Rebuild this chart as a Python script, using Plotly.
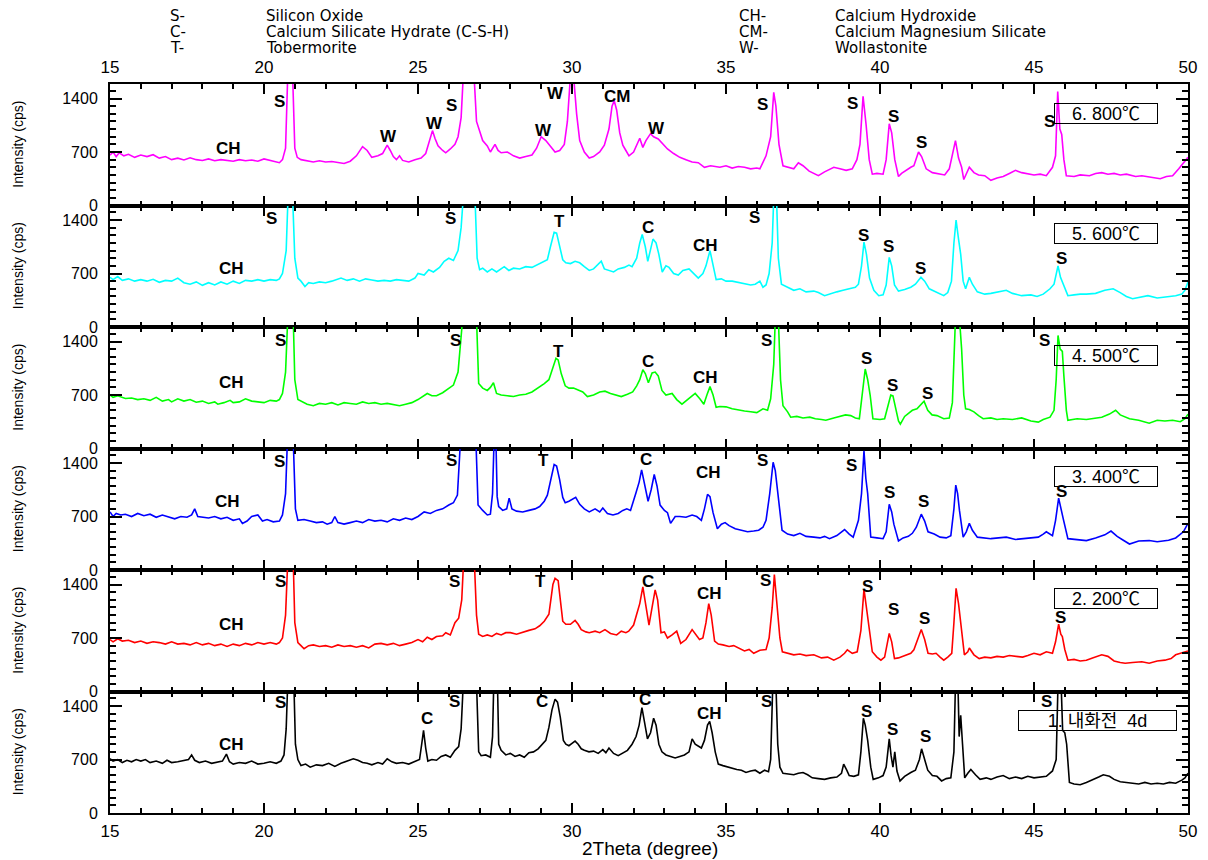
import plotly.graph_objects as go
from plotly.subplots import make_subplots

# ---------------- data (2theta, intensity) ----------------
p800 = [(15.0,660),(15.1,700),(15.2,640),(15.3,690),(15.45,650),(15.6,670),(15.8,630),(16.0,660),(16.2,640),(16.4,665),(16.6,620),(16.8,640),(17.0,600),(17.2,620),(17.4,595),(17.6,625),(17.8,600),(18.0,590),(18.2,610),(18.4,585),(18.6,600),(18.8,590),(19.0,580),(19.2,600),(19.4,585),(19.6,595),(19.8,580),(20.0,610),(20.2,590),(20.4,570),(20.5,560),(20.6,600),(20.7,750),(20.77,1700),(20.93,1700),(21.0,750),(21.08,630),(21.2,600),(21.4,580),(21.6,570),(21.8,585),(22.0,570),(22.2,575),(22.4,560),(22.6,550),(22.8,580),(23.0,650),(23.2,770),(23.35,720),(23.5,630),(23.7,650),(23.85,680),(24.0,790),(24.1,720),(24.2,640),(24.3,600),(24.4,650),(24.5,590),(24.7,570),(24.9,600),(25.1,620),(25.25,680),(25.4,900),(25.47,980),(25.55,880),(25.65,780),(25.8,720),(25.9,690),(26.05,740),(26.2,800),(26.3,900),(26.4,1150),(26.47,1700),(26.82,1700),(26.9,1100),(27.0,980),(27.1,850),(27.25,780),(27.35,700),(27.5,800),(27.6,720),(27.7,690),(27.9,700),(28.1,650),(28.3,620),(28.5,640),(28.7,660),(28.85,750),(29.0,900),(29.15,850),(29.3,780),(29.45,700),(29.6,720),(29.75,800),(29.85,1100),(29.95,1700),(30.05,1700),(30.15,1200),(30.25,850),(30.4,700),(30.56,620),(30.7,640),(30.9,700),(31.05,790),(31.2,1000),(31.3,1300),(31.37,1370),(31.45,1250),(31.55,950),(31.65,790),(31.75,720),(31.85,650),(32.0,700),(32.1,780),(32.2,880),(32.3,760),(32.4,850),(32.55,940),(32.65,900),(32.8,870),(32.95,800),(33.1,740),(33.3,680),(33.5,630),(33.7,600),(33.9,570),(34.1,560),(34.3,500),(34.5,520),(34.8,500),(35.0,520),(35.2,490),(35.4,510),(35.6,500),(35.8,480),(36.0,490),(36.1,480),(36.3,650),(36.45,900),(36.55,1480),(36.62,1300),(36.72,800),(36.85,520),(37.0,500),(37.2,480),(37.35,560),(37.5,520),(37.7,450),(37.9,410),(38.0,390),(38.2,440),(38.4,480),(38.5,500),(38.7,480),(38.9,460),(39.1,480),(39.25,600),(39.35,800),(39.45,1430),(39.55,1050),(39.65,600),(39.75,410),(39.9,420),(40.1,410),(40.2,600),(40.3,1070),(40.38,950),(40.48,600),(40.6,380),(40.7,420),(40.9,480),(41.0,500),(41.1,520),(41.25,700),(41.35,640),(41.5,480),(41.7,430),(41.9,410),(42.1,400),(42.25,480),(42.4,750),(42.45,850),(42.55,620),(42.65,500),(42.72,340),(42.8,420),(42.9,500),(43.05,430),(43.2,400),(43.4,390),(43.6,330),(43.8,360),(44.0,380),(44.2,420),(44.4,460),(44.6,430),(44.8,420),(45.0,400),(45.2,410),(45.4,390),(45.6,500),(45.7,650),(45.77,1490),(45.84,1000),(45.9,930),(45.97,600),(46.05,390),(46.3,380),(46.5,400),(46.8,390),(47.0,420),(47.2,430),(47.4,410),(47.6,420),(47.8,400),(48.0,410),(48.3,380),(48.5,390),(48.8,370),(49.1,350),(49.3,380),(49.5,390),(49.7,480),(49.85,560),(50.0,630)]

p600 = [(15.0,650),(15.1,620),(15.25,660),(15.4,610),(15.6,630),(15.8,600),(16.0,620),(16.2,600),(16.4,625),(16.6,585),(16.8,610),(17.0,600),(17.2,640),(17.4,580),(17.6,560),(17.8,590),(18.0,545),(18.2,580),(18.4,550),(18.6,590),(18.8,560),(19.0,600),(19.2,570),(19.4,610),(19.6,600),(19.8,620),(20.0,600),(20.2,620),(20.4,610),(20.5,630),(20.6,700),(20.72,1000),(20.78,1700),(20.93,1700),(21.0,900),(21.1,640),(21.2,600),(21.33,530),(21.45,580),(21.6,570),(21.8,590),(22.0,580),(22.2,600),(22.4,620),(22.5,640),(22.7,610),(22.9,630),(23.1,600),(23.3,630),(23.5,615),(23.7,600),(23.9,610),(24.1,600),(24.3,620),(24.5,610),(24.7,600),(24.9,640),(25.0,700),(25.2,680),(25.35,750),(25.5,720),(25.7,780),(25.85,860),(26.0,900),(26.15,870),(26.3,1000),(26.4,1300),(26.47,1700),(26.85,1700),(26.92,900),(27.0,750),(27.1,770),(27.25,720),(27.4,760),(27.55,720),(27.7,760),(27.8,790),(27.95,740),(28.1,770),(28.3,760),(28.5,790),(28.7,780),(28.9,820),(29.05,850),(29.2,880),(29.3,1050),(29.42,1240),(29.5,1230),(29.6,1050),(29.7,880),(29.8,840),(29.95,830),(30.1,860),(30.25,840),(30.4,790),(30.56,740),(30.7,760),(30.95,860),(31.05,760),(31.2,740),(31.35,720),(31.5,760),(31.7,780),(31.85,810),(31.95,790),(32.1,900),(32.2,1100),(32.28,1210),(32.38,1050),(32.46,860),(32.55,1000),(32.63,1150),(32.73,1100),(32.82,950),(32.93,720),(33.05,800),(33.15,780),(33.3,700),(33.45,680),(33.6,740),(33.8,760),(33.95,700),(34.1,640),(34.25,700),(34.35,800),(34.48,1000),(34.58,800),(34.68,620),(34.85,630),(35.0,600),(35.2,600),(35.4,580),(35.6,560),(35.8,550),(35.95,560),(36.1,600),(36.2,520),(36.3,550),(36.4,700),(36.5,1100),(36.55,1700),(36.64,1700),(36.7,900),(36.8,560),(37.0,520),(37.2,480),(37.4,500),(37.6,460),(37.85,470),(38.0,450),(38.2,410),(38.4,440),(38.6,460),(38.8,480),(39.0,500),(39.2,520),(39.3,560),(39.4,800),(39.48,1110),(39.56,950),(39.66,640),(39.8,480),(39.96,410),(40.1,420),(40.2,550),(40.3,910),(40.38,800),(40.47,550),(40.6,470),(40.8,490),(41.0,520),(41.15,560),(41.33,650),(41.45,600),(41.6,500),(41.75,470),(41.9,440),(42.07,410),(42.2,450),(42.32,600),(42.4,1100),(42.47,1400),(42.55,1150),(42.62,950),(42.7,600),(42.78,500),(42.9,650),(43.0,560),(43.16,460),(43.4,430),(43.6,440),(43.8,460),(44.1,480),(44.3,440),(44.6,410),(44.9,420),(45.1,400),(45.3,430),(45.52,500),(45.65,560),(45.78,800),(45.86,650),(45.95,560),(46.1,410),(46.3,420),(46.5,430),(46.7,430),(47.0,440),(47.3,480),(47.57,500),(47.8,450),(48.0,400),(48.2,370),(48.5,390),(48.7,410),(49.0,380),(49.23,390),(49.45,400),(49.6,410),(49.8,430),(49.9,480),(50.0,590)]

p500 = [(15.0,700),(15.1,670),(15.25,690),(15.5,655),(15.7,660),(15.9,640),(16.1,650),(16.3,630),(16.5,670),(16.7,620),(16.9,640),(17.0,610),(17.2,650),(17.4,620),(17.6,640),(17.8,605),(18.0,620),(18.2,590),(18.4,610),(18.5,580),(18.7,600),(18.9,630),(19.0,600),(19.2,610),(19.4,650),(19.6,620),(19.8,610),(20.0,600),(20.2,630),(20.4,620),(20.5,640),(20.6,720),(20.7,1000),(20.77,1700),(20.95,1700),(21.0,900),(21.1,640),(21.25,610),(21.4,580),(21.6,560),(21.8,590),(22.0,580),(22.2,600),(22.4,570),(22.6,600),(22.8,590),(23.0,580),(23.2,610),(23.4,590),(23.6,600),(23.8,580),(24.0,590),(24.2,570),(24.4,560),(24.6,580),(24.8,600),(25.0,640),(25.15,680),(25.3,720),(25.45,690),(25.6,690),(25.8,730),(26.0,790),(26.15,830),(26.3,1000),(26.45,1700),(26.9,1700),(26.97,850),(27.1,790),(27.25,760),(27.35,800),(27.45,860),(27.55,720),(27.7,700),(27.9,690),(28.1,680),(28.3,700),(28.5,710),(28.7,740),(28.9,790),(29.1,850),(29.25,900),(29.35,1030),(29.48,1180),(29.55,1160),(29.65,980),(29.78,820),(29.9,790),(30.05,790),(30.2,760),(30.35,740),(30.5,680),(30.7,700),(30.9,740),(31.07,750),(31.25,720),(31.4,700),(31.6,680),(31.8,710),(31.97,740),(32.1,820),(32.2,900),(32.3,1030),(32.38,980),(32.48,860),(32.6,990),(32.7,1000),(32.8,950),(32.92,760),(33.05,700),(33.25,720),(33.4,640),(33.57,580),(33.75,640),(33.9,690),(34.0,720),(34.15,650),(34.28,580),(34.38,700),(34.48,810),(34.58,700),(34.68,540),(34.8,550),(35.0,545),(35.2,520),(35.4,500),(35.6,490),(35.8,480),(36.0,470),(36.2,520),(36.35,500),(36.45,650),(36.55,1100),(36.6,1700),(36.7,1700),(36.77,900),(36.85,560),(37.0,480),(37.1,410),(37.3,420),(37.5,400),(37.72,410),(37.9,390),(38.1,380),(38.24,370),(38.5,400),(38.7,420),(38.88,440),(39.05,430),(39.2,400),(39.33,390),(39.42,700),(39.52,1040),(39.6,900),(39.68,700),(39.77,390),(40.0,380),(40.15,390),(40.25,550),(40.35,700),(40.42,690),(40.5,550),(40.6,360),(40.66,320),(40.8,420),(41.05,500),(41.2,520),(41.43,620),(41.55,500),(41.69,440),(41.85,430),(42.07,390),(42.25,400),(42.35,600),(42.45,1700),(42.58,1700),(42.65,1300),(42.72,700),(42.78,520),(42.9,510),(43.05,480),(43.2,430),(43.35,390),(43.6,400),(43.8,380),(44.0,390),(44.3,380),(44.6,400),(44.9,360),(45.14,345),(45.3,380),(45.52,410),(45.65,500),(45.72,900),(45.78,1480),(45.85,1300),(45.92,1270),(45.97,950),(46.05,500),(46.1,370),(46.4,390),(46.7,380),(47.0,400),(47.2,410),(47.45,450),(47.65,500),(47.8,440),(48.1,390),(48.4,370),(48.74,330),(49.0,370),(49.25,360),(49.5,370),(49.75,350),(49.9,390),(50.0,450)]

p400 = [(15.0,760),(15.1,700),(15.2,740),(15.35,720),(15.5,730),(15.7,700),(15.9,740),(16.1,710),(16.3,730),(16.5,690),(16.7,720),(16.9,700),(17.1,670),(17.3,700),(17.5,690),(17.65,720),(17.75,800),(17.85,700),(18.0,690),(18.2,680),(18.4,700),(18.6,670),(18.8,690),(19.0,650),(19.2,670),(19.3,610),(19.45,640),(19.6,700),(19.8,720),(19.95,640),(20.1,660),(20.3,630),(20.5,640),(20.6,720),(20.7,1000),(20.76,1700),(20.95,1700),(21.02,800),(21.1,650),(21.3,660),(21.5,640),(21.7,620),(21.9,630),(22.05,600),(22.2,620),(22.3,700),(22.4,620),(22.6,600),(22.8,620),(23.0,640),(23.2,620),(23.4,660),(23.6,640),(23.8,650),(24.0,630),(24.2,670),(24.4,650),(24.6,680),(24.8,660),(25.0,700),(25.2,760),(25.4,740),(25.6,780),(25.8,800),(26.0,850),(26.15,880),(26.28,980),(26.38,1700),(26.88,1700),(26.95,850),(27.1,780),(27.25,720),(27.35,730),(27.42,1000),(27.47,1700),(27.53,1700),(27.57,960),(27.62,830),(27.75,780),(27.88,800),(27.96,940),(28.05,800),(28.2,770),(28.4,760),(28.6,780),(28.8,800),(28.95,830),(29.1,900),(29.2,980),(29.32,1200),(29.42,1380),(29.5,1360),(29.6,1180),(29.7,950),(29.78,880),(29.9,900),(30.0,920),(30.12,950),(30.25,860),(30.4,800),(30.56,760),(30.75,800),(30.9,760),(31.0,810),(31.15,740),(31.33,720),(31.5,740),(31.65,780),(31.78,800),(31.9,780),(32.07,1000),(32.18,1150),(32.26,1310),(32.35,1150),(32.47,900),(32.57,1050),(32.67,1250),(32.76,1100),(32.86,850),(33.0,780),(33.1,750),(33.2,610),(33.35,700),(33.5,700),(33.7,690),(33.9,720),(34.05,700),(34.2,650),(34.3,800),(34.4,990),(34.48,960),(34.58,750),(34.72,540),(34.85,600),(34.97,620),(35.1,580),(35.3,540),(35.5,520),(35.7,500),(35.9,510),(36.06,520),(36.2,560),(36.3,650),(36.42,1000),(36.53,1410),(36.6,1300),(36.67,1050),(36.75,700),(36.82,520),(37.0,470),(37.2,450),(37.4,480),(37.6,440),(37.85,430),(38.05,420),(38.2,440),(38.36,410),(38.6,450),(38.75,500),(38.85,530),(39.0,470),(39.13,430),(39.3,650),(39.4,1000),(39.48,1560),(39.54,1200),(39.6,1000),(39.7,430),(39.9,420),(40.1,410),(40.2,500),(40.3,860),(40.38,760),(40.45,600),(40.6,380),(40.75,420),(40.92,440),(41.05,480),(41.18,560),(41.34,730),(41.45,640),(41.56,500),(41.76,470),(41.95,430),(42.15,420),(42.3,450),(42.4,800),(42.46,1110),(42.52,1000),(42.58,780),(42.7,430),(42.8,500),(42.9,610),(43.0,520),(43.16,430),(43.4,420),(43.6,410),(43.85,420),(44.1,430),(44.4,400),(44.63,410),(44.9,420),(45.14,430),(45.3,470),(45.4,500),(45.6,450),(45.7,650),(45.8,940),(45.88,780),(45.95,670),(46.1,410),(46.4,400),(46.7,385),(47.0,420),(47.3,460),(47.5,510),(47.7,440),(47.9,390),(48.1,340),(48.4,380),(48.74,385),(49.0,370),(49.37,390),(49.6,420),(49.7,450),(49.85,500),(50.0,610)]

p200 = [(15.0,680),(15.1,650),(15.25,690),(15.4,660),(15.6,670),(15.8,640),(16.0,660),(16.2,630),(16.4,650),(16.6,640),(16.8,620),(17.0,650),(17.2,620),(17.4,630),(17.6,610),(17.8,640),(18.0,610),(18.2,630),(18.4,600),(18.6,620),(18.8,590),(19.0,620),(19.2,600),(19.4,630),(19.6,610),(19.8,640),(20.0,620),(20.2,640),(20.4,620),(20.5,640),(20.6,700),(20.7,1000),(20.77,1700),(20.95,1700),(21.0,900),(21.1,640),(21.2,600),(21.3,560),(21.45,600),(21.6,610),(21.8,590),(22.0,600),(22.2,580),(22.4,610),(22.6,590),(22.8,600),(23.0,580),(23.2,600),(23.4,570),(23.6,620),(23.8,630),(24.0,610),(24.2,630),(24.4,600),(24.6,620),(24.8,640),(25.0,680),(25.15,650),(25.3,710),(25.45,680),(25.6,720),(25.8,730),(25.9,770),(26.05,740),(26.2,900),(26.32,960),(26.42,1200),(26.48,1700),(26.83,1700),(26.9,1000),(26.97,750),(27.1,720),(27.25,740),(27.4,720),(27.55,760),(27.7,740),(27.85,770),(28.0,770),(28.2,750),(28.4,780),(28.6,800),(28.8,820),(28.95,860),(29.1,920),(29.25,1010),(29.38,1400),(29.45,1480),(29.55,1450),(29.62,1200),(29.7,920),(29.8,880),(29.95,880),(30.1,930),(30.2,880),(30.3,810),(30.45,780),(30.56,770),(30.75,790),(30.9,770),(31.07,810),(31.25,760),(31.45,740),(31.6,790),(31.75,770),(31.84,790),(32.0,870),(32.1,1010),(32.2,1150),(32.3,1370),(32.38,1150),(32.5,870),(32.6,1100),(32.7,1330),(32.78,1200),(32.89,770),(33.0,780),(33.1,700),(33.25,740),(33.4,790),(33.53,630),(33.7,680),(33.9,810),(34.0,760),(34.14,680),(34.25,700),(34.35,900),(34.44,1150),(34.52,1000),(34.63,660),(34.75,620),(34.9,610),(35.1,590),(35.25,600),(35.4,570),(35.6,530),(35.75,550),(35.9,500),(36.1,540),(36.3,550),(36.4,700),(36.5,1100),(36.57,1530),(36.62,1300),(36.67,1050),(36.75,700),(36.83,520),(37.0,500),(37.2,480),(37.4,490),(37.6,470),(37.85,480),(38.1,440),(38.3,450),(38.5,410),(38.7,450),(38.85,500),(38.94,545),(39.1,500),(39.26,520),(39.38,800),(39.48,1340),(39.56,1100),(39.64,880),(39.75,520),(39.9,450),(40.03,410),(40.15,450),(40.3,760),(40.38,650),(40.47,430),(40.6,440),(40.8,470),(41.0,500),(41.1,545),(41.25,700),(41.34,810),(41.45,680),(41.56,500),(41.7,490),(41.82,500),(41.95,450),(42.07,410),(42.2,450),(42.33,500),(42.4,900),(42.47,1350),(42.55,1150),(42.62,900),(42.7,600),(42.74,480),(42.85,520),(42.9,570),(43.05,480),(43.22,430),(43.4,450),(43.6,440),(43.8,460),(44.0,450),(44.2,470),(44.4,460),(44.63,450),(44.8,470),(45.0,500),(45.2,480),(45.4,520),(45.6,500),(45.7,650),(45.8,880),(45.87,750),(45.92,720),(46.0,550),(46.1,410),(46.3,420),(46.5,400),(46.7,410),(46.9,440),(47.2,480),(47.4,460),(47.6,400),(47.8,380),(47.96,370),(48.2,380),(48.5,390),(48.74,370),(49.0,400),(49.25,410),(49.45,430),(49.6,480),(49.8,500),(50.0,530)]

p_before = [(15.0,710),(15.1,680),(15.25,700),(15.4,660),(15.55,690),(15.7,670),(15.85,700),(16.0,680),(16.15,700),(16.3,660),(16.5,680),(16.7,650),(16.85,690),(17.0,660),(17.2,670),(17.4,690),(17.55,700),(17.65,760),(17.75,690),(17.9,660),(18.1,680),(18.3,650),(18.5,670),(18.65,680),(18.78,770),(18.88,670),(19.0,640),(19.2,660),(19.4,650),(19.6,680),(19.8,640),(20.0,650),(20.2,670),(20.4,650),(20.55,680),(20.65,760),(20.72,1100),(20.77,1700),(20.97,1700),(21.02,900),(21.1,700),(21.2,620),(21.35,640),(21.5,600),(21.7,630),(21.9,620),(22.1,650),(22.3,610),(22.5,650),(22.7,680),(22.9,710),(23.05,690),(23.2,660),(23.35,650),(23.5,630),(23.7,660),(23.85,640),(24.0,710),(24.15,670),(24.3,650),(24.5,660),(24.7,640),(24.9,680),(25.05,700),(25.12,900),(25.18,1080),(25.25,850),(25.32,680),(25.45,700),(25.6,690),(25.75,740),(25.9,760),(26.05,730),(26.2,820),(26.32,870),(26.4,1100),(26.47,1700),(26.9,1700),(26.97,800),(27.05,750),(27.2,760),(27.35,730),(27.42,1000),(27.46,1700),(27.58,1700),(27.62,900),(27.7,820),(27.85,760),(28.0,780),(28.15,740),(28.3,760),(28.45,730),(28.6,790),(28.75,800),(28.9,840),(29.05,900),(29.15,950),(29.25,1120),(29.35,1350),(29.45,1490),(29.53,1450),(29.62,1250),(29.72,950),(29.8,900),(29.9,880),(30.0,910),(30.1,940),(30.2,900),(30.3,840),(30.4,820),(30.55,800),(30.7,810),(30.85,780),(31.0,830),(31.1,790),(31.2,850),(31.35,780),(31.5,750),(31.65,790),(31.8,820),(31.95,900),(32.08,1000),(32.18,1150),(32.27,1380),(32.35,1200),(32.45,970),(32.55,1050),(32.65,1240),(32.73,1150),(32.82,900),(32.92,800),(33.05,760),(33.2,740),(33.35,720),(33.5,740),(33.65,760),(33.8,800),(33.9,970),(34.0,900),(34.08,880),(34.2,850),(34.3,950),(34.4,1150),(34.47,1200),(34.55,1050),(34.65,800),(34.75,640),(34.9,620),(35.05,600),(35.2,590),(35.35,570),(35.5,560),(35.65,530),(35.8,550),(35.95,560),(36.1,520),(36.25,560),(36.38,540),(36.45,700),(36.52,1700),(36.62,1700),(36.68,900),(36.75,600),(36.85,520),(37.0,510),(37.2,500),(37.35,520),(37.5,530),(37.65,500),(37.8,460),(38.0,450),(38.2,440),(38.4,460),(38.6,470),(38.75,520),(38.82,640),(38.92,560),(39.0,490),(39.15,480),(39.3,500),(39.38,800),(39.46,1240),(39.52,1150),(39.6,950),(39.7,600),(39.78,440),(39.95,460),(40.1,490),(40.2,600),(40.3,970),(40.36,750),(40.42,600),(40.48,800),(40.55,550),(40.65,420),(40.8,480),(41.0,530),(41.15,560),(41.28,700),(41.35,840),(41.45,700),(41.55,560),(41.7,490),(41.85,480),(42.0,420),(42.15,450),(42.3,460),(42.4,800),(42.45,1700),(42.53,1700),(42.57,1000),(42.62,1280),(42.68,900),(42.75,460),(42.85,520),(42.95,570),(43.1,500),(43.25,440),(43.45,460),(43.6,440),(43.8,470),(44.0,490),(44.2,450),(44.4,470),(44.6,450),(44.8,480),(45.0,460),(45.2,470),(45.4,480),(45.6,550),(45.72,700),(45.78,1700),(45.88,1700),(45.93,1080),(46.0,1050),(46.06,900),(46.15,400),(46.3,380),(46.5,370),(46.7,400),(46.9,430),(47.1,470),(47.25,500),(47.45,480),(47.6,440),(47.8,410),(48.0,400),(48.2,390),(48.4,380),(48.6,400),(48.8,380),(49.0,390),(49.2,380),(49.4,400),(49.6,390),(49.8,430),(49.9,460),(50.0,520)]

# sample names (top to bottom), line colours
sample_names = ["6. 800℃", "5. 600℃", "4. 500℃", "3. 400℃", "2. 200℃", "1. 내화전  4d"]
sample_colors = ["#FF00FF", "#00FFFF", "#00FF00", "#0000FF", "#FF0000", "#000000"]
sample_data = [p800, p600, p500, p400, p200, p_before]

# phase labels (text, 2theta, intensity) per panel
lab800 = [("CH",18.86,746),("S",20.49,1361),("W",24.03,903),("W",25.52,1073),("S",26.1,1309),("W",29.09,982),("W",29.48,1466),("CM",31.46,1430),("W",32.73,1010),("S",36.2,1320),("S",39.1,1335),("S",40.45,1170),("S",41.35,830),("S",45.49,1100)]
lab600 = [("CH",18.96,772),("S",20.23,1414),("S",26.07,1414),("T",29.58,1387),("C",32.47,1296),("CH",34.35,1073),("S",35.94,1427),("S",39.45,1204),("S",40.29,1060),("S",41.33,772),("S",45.88,903)]
lab500 = [("CH",18.96,864),("S",20.52,1414),("S",26.23,1414),("T",29.55,1270),("C",32.47,1139),("CH",34.35,929),("S",36.3,1414),("S",39.55,1178),("S",40.39,825),("S",41.53,720),("S",45.33,1414)]
lab400 = [("CH",18.8,890),("S",20.49,1414),("S",26.1,1427),("T",29.09,1427),("C",32.4,1440),("CH",34.42,1270),("S",36.2,1427),("S",39.06,1374),("S",40.32,1008),("S",41.4,903),("S",45.88,1021)]
lab200 = [("CH",18.93,877),("S",20.55,1440),("S",26.2,1440),("T",28.99,1440),("C",32.47,1440),("CH",34.48,1283),("S",36.27,1453),("S",39.6,1370),("S",40.45,1073),("S",41.46,956),("S",45.85,965)]
lab_before = [("CH",18.96,890),("S",20.55,1440),("C",25.3,1243),("S",26.2,1453),("C",29.03,1453),("C",32.37,1479),("CH",34.48,1296),("S",36.3,1453),("S",39.55,1322),("S",40.42,1099),("S",41.49,995),("S",45.39,1453)]
panel_labels = [lab800, lab600, lab500, lab400, lab200, lab_before]

# sample name box positions (2theta, intensity, box width px)
box_pos = [(47.34,1210,100),(47.34,1220,100),(47.34,1220,100),(47.34,1220,100),(47.34,1220,100),(47.05,1217,155)]

legend_left = [("S-","Silicon Oxide"),("C-","Calcium Silicate Hydrate (C-S-H)"),("T-","Tobermorite")]
legend_right = [("CH-","Calcium Hydroxide"),("CM-","Calcium Magnesium Silicate"),("W-","Wollastonite")]

x_range = [15, 50]
y_range = [0, 1590]
x_ticks = [15, 20, 25, 30, 35, 40, 45, 50]
y_ticks = [0, 700, 1400]

FONT = "Liberation Sans, Arial, Noto Sans CJK KR, sans-serif"
LFONT = "DejaVu Sans, Liberation Sans, sans-serif"

W, H = 1208, 860
ML, MR, MT, MB = 110, 20, 84, 47
PW, PH = W - ML - MR, H - MT - MB

def px_x(px):
    return (px - ML) / PW

def px_y(py):
    return (H - MB - py) / PH

fig = make_subplots(rows=6, cols=1, shared_xaxes=True, vertical_spacing=0)

for i, (pts, col) in enumerate(zip(sample_data, sample_colors)):
    fig.add_trace(go.Scatter(x=[p[0] for p in pts], y=[p[1] for p in pts], mode="lines",
                             line=dict(color=col, width=1.6), showlegend=False, hoverinfo="skip"),
                  row=i + 1, col=1)

fig.update_xaxes(range=x_range, tickmode="array", tickvals=x_ticks, ticktext=[str(t) for t in x_ticks],
                 ticks="inside", ticklen=10, tickwidth=2, tickcolor="black",
                 minor=dict(tickmode="linear", tick0=15, dtick=1, ticks="inside", ticklen=5, tickwidth=1.5, tickcolor="black"),
                 showline=True, linewidth=2, linecolor="black", mirror="allticks",
                 showgrid=False, zeroline=False, tickfont=dict(family=FONT, size=17, color="black"))
fig.update_yaxes(range=y_range, tickmode="array", tickvals=y_ticks, ticktext=[str(t) for t in y_ticks],
                 ticks="inside", ticklen=12, tickwidth=2, tickcolor="black",
                 minor=dict(tickmode="linear", tick0=0, dtick=100, ticks="inside", ticklen=6, tickwidth=1.5, tickcolor="black"),
                 showline=True, linewidth=2, linecolor="black", mirror="allticks",
                 showgrid=False, zeroline=False, ticklabelstandoff=7,
                 tickfont=dict(family=FONT, size=16, color="black"))
fig.update_xaxes(side="top", showticklabels=True, ticklabelstandoff=2, row=1, col=1)
fig.update_xaxes(showticklabels=True, ticklabelstandoff=2, row=6, col=1)

ann = []
for i in range(6):
    xr = "x" if i == 0 else f"x{i+1}"
    yr = "y" if i == 0 else f"y{i+1}"
    for txt, xv, yv in panel_labels[i]:
        ann.append(dict(x=xv, y=yv, xref=xr, yref=yr, text=f"<b>{txt}</b>", showarrow=False,
                        xanchor="center", yanchor="middle", font=dict(family=FONT, size=17, color="black")))
    bx, by, bw = box_pos[i]
    ann.append(dict(x=bx, y=by, xref=xr, yref=yr, text=sample_names[i], showarrow=False,
                    xanchor="center", yanchor="middle", width=bw, height=17, align="center",
                    bordercolor="black", borderwidth=1, borderpad=1, bgcolor="rgba(255,255,255,0)",
                    font=dict(family=FONT, size=18, color="black")))
    ann.append(dict(x=px_x(18), y=0.5, xref="paper", yref=f"{yr} domain", text="Intensity (cps)",
                    textangle=-90, showarrow=False, xanchor="center", yanchor="middle",
                    font=dict(family=FONT, size=14, color="black")))

ann.append(dict(x=px_x(650), y=px_y(848), xref="paper", yref="paper", text="2Theta (degree)",
                showarrow=False, xanchor="center", yanchor="middle", font=dict(family=FONT, size=19, color="black")))

rows_py = [16, 32, 48]
LSIZE = 15
for (a, b), py in zip(legend_left, rows_py):
    ann.append(dict(x=px_x(168), y=px_y(py), xref="paper", yref="paper", text=a, showarrow=False,
                    xanchor="left", yanchor="middle", font=dict(family=LFONT, size=LSIZE, color="black")))
    ann.append(dict(x=px_x(264), y=px_y(py), xref="paper", yref="paper", text=b, showarrow=False,
                    xanchor="left", yanchor="middle", font=dict(family=LFONT, size=LSIZE, color="black")))
for (a, b), py in zip(legend_right, rows_py):
    ann.append(dict(x=px_x(737), y=px_y(py), xref="paper", yref="paper", text=a, showarrow=False,
                    xanchor="left", yanchor="middle", font=dict(family=LFONT, size=LSIZE, color="black")))
    ann.append(dict(x=px_x(833), y=px_y(py), xref="paper", yref="paper", text=b, showarrow=False,
                    xanchor="left", yanchor="middle", font=dict(family=LFONT, size=LSIZE, color="black")))

fig.update_layout(width=W, height=H, autosize=False,
                  margin=dict(l=ML, r=MR, t=MT, b=MB, pad=0),
                  paper_bgcolor="white", plot_bgcolor="white",
                  annotations=ann, showlegend=False)

fig.write_html("out.html", config={"displayModeBar": False},
               post_script="document.body.style.margin='0';document.body.style.overflow='hidden';")
